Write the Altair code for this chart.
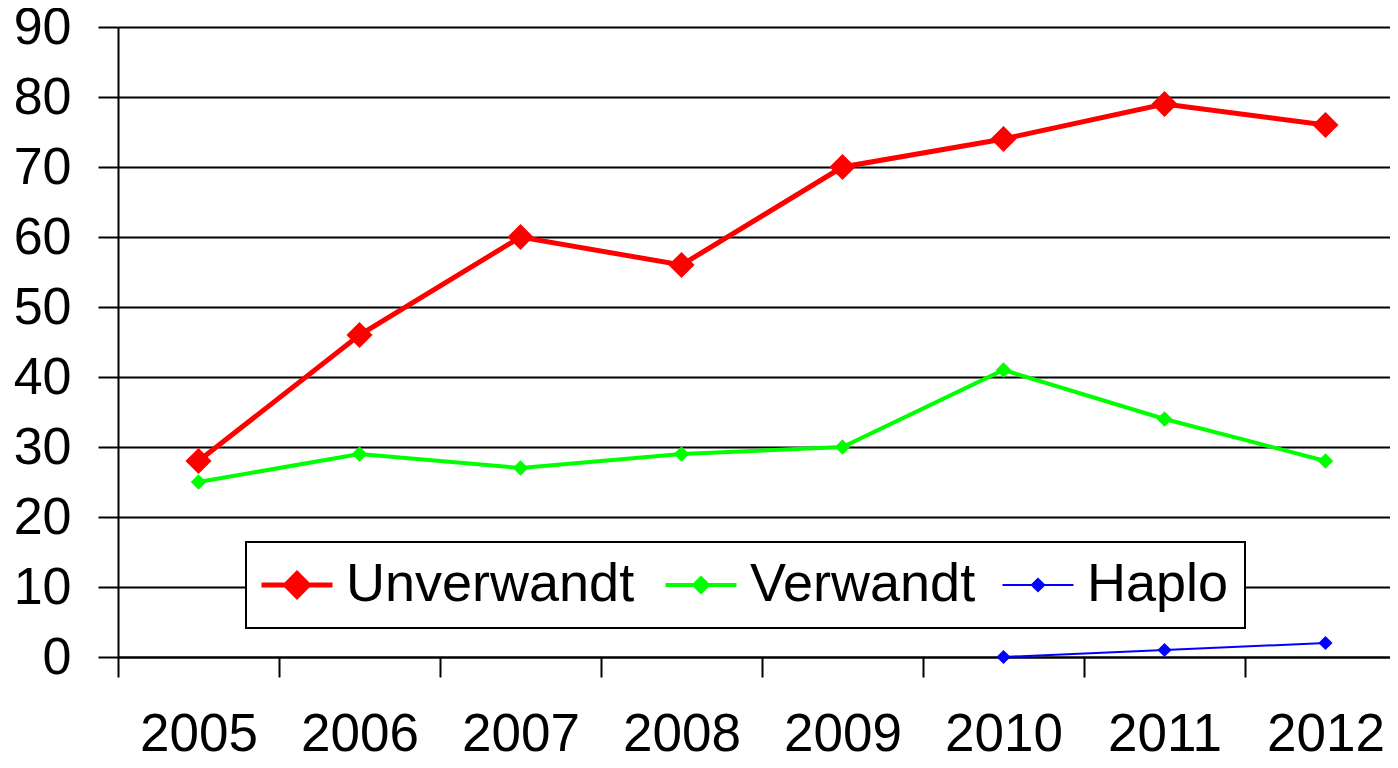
import altair as alt
import pandas as pd

years = ["2005", "2006", "2007", "2008", "2009", "2010", "2011", "2012"]
unverwandt = [28, 46, 60, 56, 70, 74, 79, 76]
verwandt = [25, 29, 27, 29, 30, 41, 34, 28]
haplo = [None, None, None, None, None, 0, 1, 2]

series_names = ["Unverwandt", "Verwandt", "Haplo"]
series_colors = ["#ff0000", "#00ff00", "#0000ff"]
line_widths = [5, 4, 2]
marker_sizes = [680, 240, 200]

rows = []
for name, vals in zip(series_names, [unverwandt, verwandt, haplo]):
    for y, v in zip(years, vals):
        if v is not None:
            rows.append({"Jahr": y, "Wert": v, "Serie": name})
df = pd.DataFrame(rows)

FONT = "Liberation Sans"

x_enc = alt.X("Jahr:N", sort=years,
              scale=alt.Scale(paddingInner=0, paddingOuter=0, range=[0, 1288]),
              axis=alt.Axis(title=None, tickBand="extent", labelAngle=0, labelFontSize=53,
                            labelFont=FONT, labelColor="black", tickSize=20, tickWidth=2,
                            tickColor="black", domainColor="black", domainWidth=2,
                            labelPadding=31, grid=False))
y_enc = alt.Y("Wert:Q", scale=alt.Scale(domain=[0, 90], nice=False),
              axis=alt.Axis(title=None, values=list(range(0, 91, 10)), labelFontSize=52,
                            labelFont=FONT, labelColor="black", tickSize=20, tickWidth=2,
                            tickColor="black", domainColor="black", domainWidth=2,
                            gridColor="black", gridWidth=2, gridOpacity=1, labelPadding=27))

color_scale = alt.Scale(domain=series_names, range=series_colors)

shape_expr = ("datum.value === 'Unverwandt' ? 'M-1.315,0H1.315M-0.42,0L0,-0.42L0.42,0L0,0.42Z' : "
              "datum.value === 'Verwandt' ? 'M-1.315,0H1.315M-0.25,0L0,-0.25L0.25,0L0,0.25Z' : "
              "'M-1.315,0H1.315M-0.23,0L0,-0.23L0.23,0L0,0.23Z'")
sw_expr = "datum.value === 'Unverwandt' ? 5 : datum.value === 'Verwandt' ? 4 : 2"

legend = alt.Legend(title=None, orient="none", legendX=128, legendY=515, direction="horizontal",
                    labelFontSize=54, labelFont=FONT, labelColor="black", labelLimit=600,
                    symbolSize=2916, padding=16, columnPadding=22, labelOffset=22,
                    symbolOffset=8, fillColor="white", strokeColor="black",
                    symbolType={"expr": shape_expr},
                    symbolStrokeWidth={"expr": sw_expr},
                    symbolOpacity=1)

color_enc = alt.Color("Serie:N", scale=color_scale, sort=series_names, legend=legend)

layers = []
for name, lw, ms in zip(series_names, line_widths, marker_sizes):
    base = alt.Chart(df).transform_filter(alt.datum.Serie == name).encode(x=x_enc, y=y_enc, color=color_enc)
    layers.append(base.mark_line(strokeWidth=lw))
    layers.append(base.mark_point(shape="diamond", filled=True, opacity=1, size=ms))

chart = alt.layer(*layers).properties(
    width=1272, height=630,
    autosize=alt.AutoSizeParams(type="none"),
    padding={"left": 110, "top": 19, "right": 0, "bottom": 102},
).configure_view(stroke=None).configure_legend(strokeWidth=2)

chart.save("out.html", embed_options={"renderer": "svg", "actions": False})
